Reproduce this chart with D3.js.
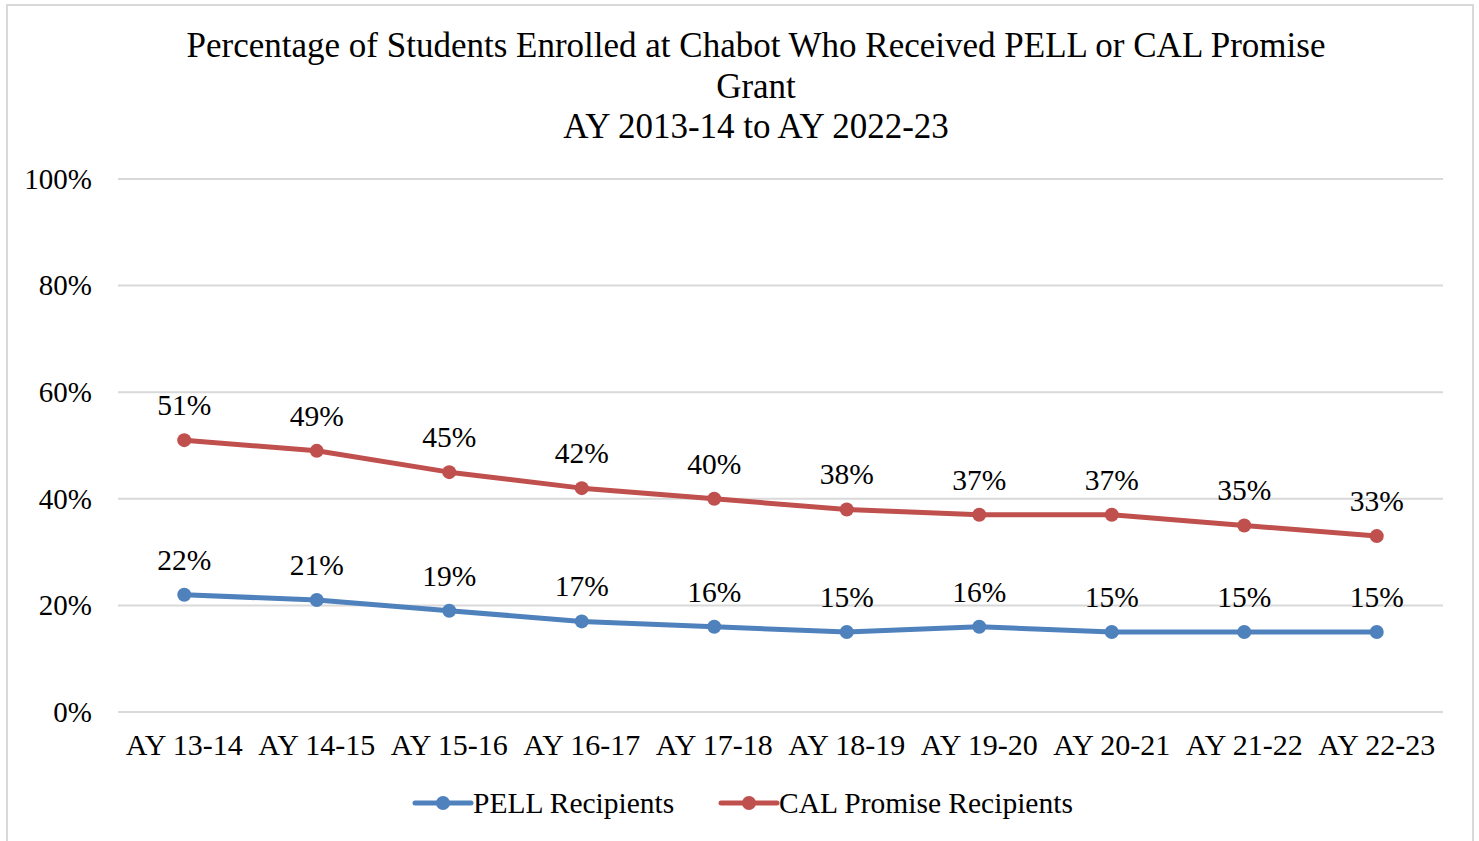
<!DOCTYPE html>
<html><head><meta charset="utf-8">
<script src="https://cdn.jsdelivr.net/npm/d3@7"></script>
<style>body{margin:0;background:#fff}svg{display:block}</style>
</head><body>
<script>
const categories = ["AY 13-14","AY 14-15","AY 15-16","AY 16-17","AY 17-18","AY 18-19","AY 19-20","AY 20-21","AY 21-22","AY 22-23"];
const pellValues = [22,21,19,17,16,15,16,15,15,15];
const calValues = [51,49,45,42,40,38,37,37,35,33];
const yTicks = [0,20,40,60,80,100];
const seriesNames = ["PELL Recipients","CAL Promise Recipients"];
const titleLines = ["Percentage of Students Enrolled at Chabot Who Received PELL or CAL Promise","Grant","AY 2013-14 to AY 2022-23"];

const W = 1479, H = 841;
const font = "'Liberation Serif','Times New Roman',serif";
const svg = d3.select("body").append("svg").attr("width", W).attr("height", H);
svg.append("rect").attr("x",0).attr("y",0).attr("width",W).attr("height",H).attr("fill","#fff");
// border
svg.append("path").attr("d", `M7,${H+5} V5 H1473 V${H+5}`).attr("fill","none").attr("stroke","#d9d9d9").attr("stroke-width",2);

const pLeft = 118, pRight = 1443, pTop = 179, pBottom = 712;
const x = d3.scaleBand().domain(categories).range([pLeft, pRight]);
const y = d3.scaleLinear().domain([0,100]).range([pBottom, pTop]);

// title
svg.append("g").selectAll("text").data(titleLines).join("text")
  .attr("x", 756).attr("y", (d,i)=>57 + i*40.5)
  .attr("text-anchor","middle").attr("font-family",font).attr("font-size",35).attr("fill","#000")
  .text(d=>d);

// grid
svg.append("g").selectAll("line").data(yTicks).join("line")
  .attr("x1",pLeft).attr("x2",pRight).attr("y1",d=>y(d)).attr("y2",d=>y(d))
  .attr("stroke","#d9d9d9").attr("stroke-width",2);

// y axis
const yAxis = svg.append("g").attr("transform",`translate(${pLeft},0)`)
  .call(d3.axisLeft(y).tickValues(yTicks).tickFormat(d=>d+"%").tickSize(0).tickPadding(26));
yAxis.select(".domain").remove();
yAxis.selectAll("text").attr("font-family",font).attr("font-size",29).attr("fill","#000");

// x axis
const xAxis = svg.append("g").attr("transform",`translate(0,${pBottom})`)
  .call(d3.axisBottom(x).tickSize(0).tickPadding(22));
xAxis.select(".domain").remove();
xAxis.selectAll("text").attr("font-family",font).attr("font-size",30).attr("fill","#000");

const series = [
  {name: seriesNames[0], values: pellValues, color: "#4f81bd"},
  {name: seriesNames[1], values: calValues, color: "#c0504d"}
];
const cx = c => x(c) + x.bandwidth()/2;
const line = d3.line().x((d,i)=>cx(categories[i])).y(d=>y(d));

series.forEach(s => {
  svg.append("path").datum(s.values).attr("d", line).attr("fill","none")
    .attr("stroke", s.color).attr("stroke-width",5).attr("stroke-linejoin","round").attr("stroke-linecap","round");
  svg.append("g").selectAll("circle").data(s.values).join("circle")
    .attr("cx",(d,i)=>cx(categories[i])).attr("cy",d=>y(d)).attr("r",7).attr("fill",s.color);
  svg.append("g").selectAll("text").data(s.values).join("text")
    .attr("x",(d,i)=>cx(categories[i])).attr("y",d=>y(d)-25)
    .attr("text-anchor","middle").attr("font-family",font).attr("font-size",29.5).attr("fill","#000")
    .text(d=>d+"%");
});

// legend
const legendItems = [
  {name: seriesNames[0], color: "#4f81bd", x: 415},
  {name: seriesNames[1], color: "#c0504d", x: 721}
];
legendItems.forEach(l => {
  const g = svg.append("g").attr("transform",`translate(${l.x},803)`);
  g.append("line").attr("x1",0).attr("x2",56).attr("y1",0).attr("y2",0)
    .attr("stroke",l.color).attr("stroke-width",5).attr("stroke-linecap","round");
  g.append("circle").attr("cx",28).attr("cy",0).attr("r",7).attr("fill",l.color);
  g.append("text").attr("x",58).attr("y",10).attr("font-family",font).attr("font-size",29.5).attr("fill","#000").text(l.name);
});
</script>
</body></html>
